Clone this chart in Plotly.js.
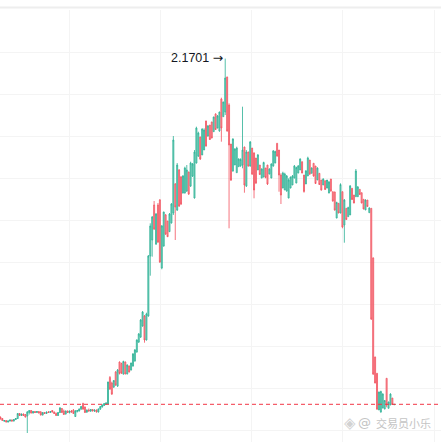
<!DOCTYPE html>
<html>
<head>
<meta charset="utf-8">
<script src="https://cdn.plot.ly/plotly-3.0.1.min.js"></script>
<style>html,body{margin:0;padding:0;background:#fff;}#chart{width:441px;height:442px;}</style>
</head>
<body>
<div id="chart"></div>
<script>
const openP = [
0.378,0.3705,0.358,0.3605,0.353,0.358,0.363,0.358,0.3655,0.3705,
0.3955,0.3855,0.393,0.3905,0.383,0.4005,0.4105,0.398,0.4055,0.4005,
0.4055,0.403,0.388,0.4005,0.3955,0.403,0.4005,0.4105,0.403,0.3955,
0.3855,0.4005,0.4205,0.408,0.393,0.408,0.4005,0.408,0.413,0.3805,
0.4055,0.408,0.418,0.4455,0.428,0.403,0.413,0.408,0.4155,0.408,
0.413,0.403,0.418,0.428,0.4355,0.443,0.443,
0.5755,0.548,0.528,0.603,0.533,0.653,0.6455,0.593,0.653,0.593,
0.633,0.613,0.633,0.658,0.703,0.753,0.778,0.833,0.883,0.763,
0.883,1.183,1.263,1.438,1.243,1.438,1.463,1.123,1.233,1.388,
1.358,1.3045,1.348,1.398,1.543,1.413,1.613,1.578,1.498,1.498,
1.508,1.603,1.533,1.583,1.473,1.648,1.683,1.778,1.688,1.713,
1.858,1.783,1.838,1.853,1.8045,1.893,1.823,1.808,1.968,1.8795,
1.903,2.078,1.938,1.743,1.608,1.638,1.5995,1.6295,1.633,1.638,
1.728,1.533,1.703,1.633,1.723,1.698,1.673,1.613,1.638,1.573,
1.578,1.623,1.638,1.593,1.573,1.633,1.648,1.7465,1.713,1.588,
1.523,1.513,1.508,1.473,1.523,1.538,1.573,1.548,1.598,1.613,
1.6545,1.588,1.543,1.583,1.663,1.5965,1.6465,1.633,1.563,1.5965,
1.563,1.538,1.5595,1.523,1.498,1.568,1.5045,1.503,1.373,1.4465,
1.398,1.5045,1.338,1.4215,1.3795,1.388,1.5215,1.488,1.4795,1.4795,
1.5165,1.4995,1.4665,1.413,1.463,1.3995,1.4215,1.173,0.678,0.5965,
0.413,0.403,0.423,0.418,0.5715,0.4215,0.438,0.473,0.4405
];
const highP = [
0.3805,0.373,0.363,0.363,0.3605,0.3655,0.3655,0.368,0.373,0.398,
0.398,0.3955,0.3955,0.393,0.408,0.413,0.413,0.408,0.408,0.408,
0.408,0.408,0.403,0.403,0.4055,0.408,0.4055,0.413,0.4055,0.4005,
0.403,0.428,0.423,0.4155,0.4105,0.4105,0.4105,0.413,0.418,0.413,
0.413,0.4205,0.433,0.4495,0.4305,0.4155,0.4205,0.418,0.418,0.4155,
0.4155,0.4205,0.433,0.4405,0.448,0.4505,0.5545,
0.583,0.5545,0.563,0.608,0.618,0.6555,0.6495,0.6595,0.6555,0.6415,
0.6355,0.6495,0.698,0.718,0.7665,0.798,0.868,0.908,0.888,0.8995,
1.188,1.3465,1.383,1.458,1.398,1.448,1.468,1.338,1.4045,1.393,
1.358,1.398,1.448,1.783,1.548,1.648,1.618,1.583,1.588,1.6295,
1.638,1.6045,1.6545,1.648,1.713,1.8295,1.8045,1.7795,1.8215,1.8215,
1.8595,1.838,1.838,1.8545,1.8795,1.8965,1.888,1.9045,1.9745,1.9545,
2.1701,2.0795,1.9465,1.743,1.7715,1.7215,1.7295,1.6715,1.6715,1.9295,
1.7295,1.713,1.7045,1.758,1.723,1.7015,1.673,1.693,1.638,1.6215,
1.6545,1.623,1.638,1.6215,1.6465,1.713,1.7095,1.7465,1.713,1.5965,
1.6045,1.5995,1.588,1.5715,1.5795,1.588,1.638,1.6295,1.638,1.6715,
1.6545,1.588,1.613,1.6795,1.663,1.6265,1.6465,1.633,1.6265,1.5965,
1.563,1.5715,1.5595,1.5595,1.558,1.568,1.5045,1.5045,1.4545,1.4465,
1.5465,1.5045,1.468,1.4215,1.4295,1.538,1.5215,1.488,1.618,1.533,
1.5165,1.4995,1.4665,1.4665,1.463,1.4265,1.4215,1.1765,0.6795,0.5965,
0.5045,0.5095,0.4965,0.463,0.5715,0.4545,0.4965,0.473,0.4425
];
const lowP = [
0.3655,0.358,0.353,0.3505,0.3505,0.3555,0.3555,0.3555,0.363,0.368,
0.383,0.383,0.383,0.3755,0.298,0.3905,0.3955,0.3955,0.398,0.398,
0.3955,0.3855,0.3855,0.393,0.393,0.398,0.398,0.4005,0.393,0.383,
0.383,0.398,0.398,0.388,0.3905,0.398,0.3955,0.4005,0.393,0.378,
0.4005,0.4055,0.413,0.413,0.398,0.398,0.4055,0.403,0.4055,0.403,
0.4005,0.4005,0.413,0.4255,0.433,0.438,0.4405,
0.513,0.488,0.523,0.533,0.528,0.5905,0.593,0.5895,0.5915,0.5915,
0.6005,0.6105,0.6295,0.6545,0.6995,0.748,0.773,0.8295,0.7495,0.7605,
0.8795,1.0845,1.1795,1.313,1.238,1.248,1.148,1.1165,1.2295,1.288,
1.278,1.303,1.3455,1.388,1.263,1.408,1.428,1.438,1.4955,1.4955,
1.503,1.488,1.528,1.578,1.4705,1.6455,1.678,1.663,1.688,1.713,
1.7295,1.7795,1.763,1.7715,1.8045,1.813,1.8215,1.8045,1.7545,1.8795,
1.888,1.8045,1.3215,1.558,1.6045,1.638,1.5995,1.6295,1.6295,1.6215,
1.4995,1.528,1.6295,1.6295,1.588,1.4715,1.543,1.613,1.588,1.5715,
1.5765,1.5715,1.538,1.5915,1.5715,1.6295,1.6465,1.6795,1.5045,1.443,
1.5215,1.513,1.5045,1.4715,1.5215,1.538,1.5715,1.5465,1.5965,1.613,
1.5965,1.4995,1.543,1.583,1.588,1.5965,1.5795,1.543,1.563,1.538,
1.5095,1.538,1.513,1.5215,1.4965,1.5045,1.4545,1.4095,1.3715,1.3965,
1.3965,1.3215,1.2495,1.363,1.3795,1.388,1.463,1.4465,1.4795,1.4795,
1.488,1.4465,1.4165,1.413,1.4295,1.3995,0.863,0.588,0.5465,0.413,
0.413,0.3995,0.4215,0.4165,0.4265,0.4215,0.438,0.438,0.4365
];
const closeP = [
0.368,0.3605,0.3605,0.353,0.358,0.363,0.358,0.3655,0.3705,0.3955,
0.3855,0.393,0.3855,0.378,0.403,0.4105,0.398,0.4055,0.4005,0.4055,
0.398,0.388,0.4005,0.3955,0.403,0.4005,0.4055,0.403,0.3955,0.3855,
0.4005,0.423,0.4005,0.3905,0.408,0.4005,0.408,0.403,0.3955,0.408,
0.4105,0.418,0.4305,0.418,0.4005,0.413,0.408,0.4155,0.408,0.413,
0.403,0.418,0.4305,0.438,0.4455,0.448,0.553,
0.518,0.493,0.5605,0.538,0.613,0.5955,0.598,0.6555,0.593,0.638,
0.603,0.648,0.693,0.713,0.763,0.793,0.863,0.903,0.763,0.893,
1.183,1.333,1.378,1.318,1.393,1.253,1.153,1.333,1.403,1.293,
1.2795,1.393,1.443,1.763,1.428,1.638,1.433,1.443,1.583,1.623,
1.613,1.493,1.648,1.643,1.703,1.823,1.798,1.668,1.818,1.813,
1.733,1.833,1.7655,1.773,1.878,1.8155,1.883,1.903,1.823,1.953,
2.073,1.808,1.738,1.563,1.768,1.718,1.723,1.668,1.6655,1.713,
1.538,1.703,1.633,1.753,1.593,1.513,1.548,1.688,1.5905,1.618,
1.6505,1.5755,1.543,1.618,1.643,1.708,1.7055,1.683,1.588,1.488,
1.598,1.593,1.583,1.563,1.578,1.583,1.633,1.6255,1.633,1.668,
1.598,1.5055,1.608,1.673,1.593,1.623,1.583,1.5455,1.623,1.5405,
1.513,1.568,1.5155,1.563,1.553,1.508,1.458,1.413,1.4505,1.398,
1.5405,1.328,1.463,1.3655,1.4255,1.533,1.4655,1.448,1.608,1.528,
1.4905,1.448,1.418,1.463,1.4305,1.423,0.868,0.593,0.548,0.418,
0.503,0.5055,0.493,0.4605,0.438,0.453,0.493,0.4405,0.4415
];
const watermarkAt = "@";
const watermarkName = "交易员小乐";

const n = closeP.length;
const idx = Array.from({length: n}, (_, i) => i);
let maxI = 0;
for (let i = 1; i < n; i++) if (highP[i] > highP[maxI]) maxI = i;
const lastClose = closeP[n - 1];

const trace = {
  type: 'candlestick',
  x: idx, open: openP, high: highP, low: lowP, close: closeP,
  increasing: {line: {color: '#2bb094', width: 0.8}, fillcolor: '#8ad7c5'},
  decreasing: {line: {color: '#f2525e', width: 0.8}, fillcolor: '#f5a2a8'},
  whiskerwidth: 0,
  hoverinfo: 'none'
};

const layout = {
  width: 441, height: 442,
  margin: {l: 0, r: 0, t: 10, b: 0},
  paper_bgcolor: '#ffffff', plot_bgcolor: '#ffffff',
  showlegend: false,
  boxgap: 0.25,
  xaxis: {
    type: 'linear', range: [-0.208, 229.3],
    rangeslider: {visible: false},
    showticklabels: false, zeroline: false, showline: false,
    showgrid: true, gridcolor: '#f4f4f4', gridwidth: 1,
    tick0: 35.7, dtick: 47.5, ticks: ''
  },
  yaxis: {
    range: [0.253, 2.413],
    showticklabels: false, zeroline: false, showline: false,
    showgrid: true, gridcolor: '#f4f4f4', gridwidth: 1,
    tick0: 2.2015, dtick: 0.21, ticks: ''
  },
  shapes: [
    {type: 'line', xref: 'paper', yref: 'y', x0: 0, x1: 1, y0: lastClose, y1: lastClose,
     line: {color: '#f23645', width: 1, dash: '4px,3px'}},
    {type: 'line', xref: 'paper', yref: 'paper', x0: 0, x1: 1, y0: 1.0058, y1: 1.0058,
     line: {color: '#eeeeee', width: 2}}
  ],
  annotations: [
    {x: maxI, y: highP[maxI], xref: 'x', yref: 'y',
     text: highP[maxI].toFixed(4) + ' <span style="font-family:DejaVu Sans">\u2192</span>', showarrow: false,
     xanchor: 'right', yanchor: 'middle', xshift: 0, yshift: 1,
     font: {family: 'Liberation Sans, Arial, sans-serif', size: 12.5, color: '#131722'}},
    {x: 350 / 441, y: 0.044, xref: 'paper', yref: 'paper',
     text: '\u25C8', showarrow: false, xanchor: 'center', yanchor: 'middle',
     font: {family: 'DejaVu Sans', size: 15, color: '#d2d2d2'}},
    {x: 364.5 / 441, y: 0.044, xref: 'paper', yref: 'paper',
     text: watermarkAt, showarrow: false, xanchor: 'center', yanchor: 'middle',
     font: {family: 'DejaVu Sans', size: 13, color: '#c4c4c4'}},
    {x: 432.5 / 441, y: 0.044, xref: 'paper', yref: 'paper',
     text: watermarkName, showarrow: false, xanchor: 'right', yanchor: 'middle',
     font: {family: 'Noto Sans CJK SC, sans-serif', size: 11, color: '#c4c4c4'}}
  ]
};

Plotly.newPlot('chart', [trace], layout, {staticPlot: true, displayModeBar: false});
</script>
</body>
</html>
